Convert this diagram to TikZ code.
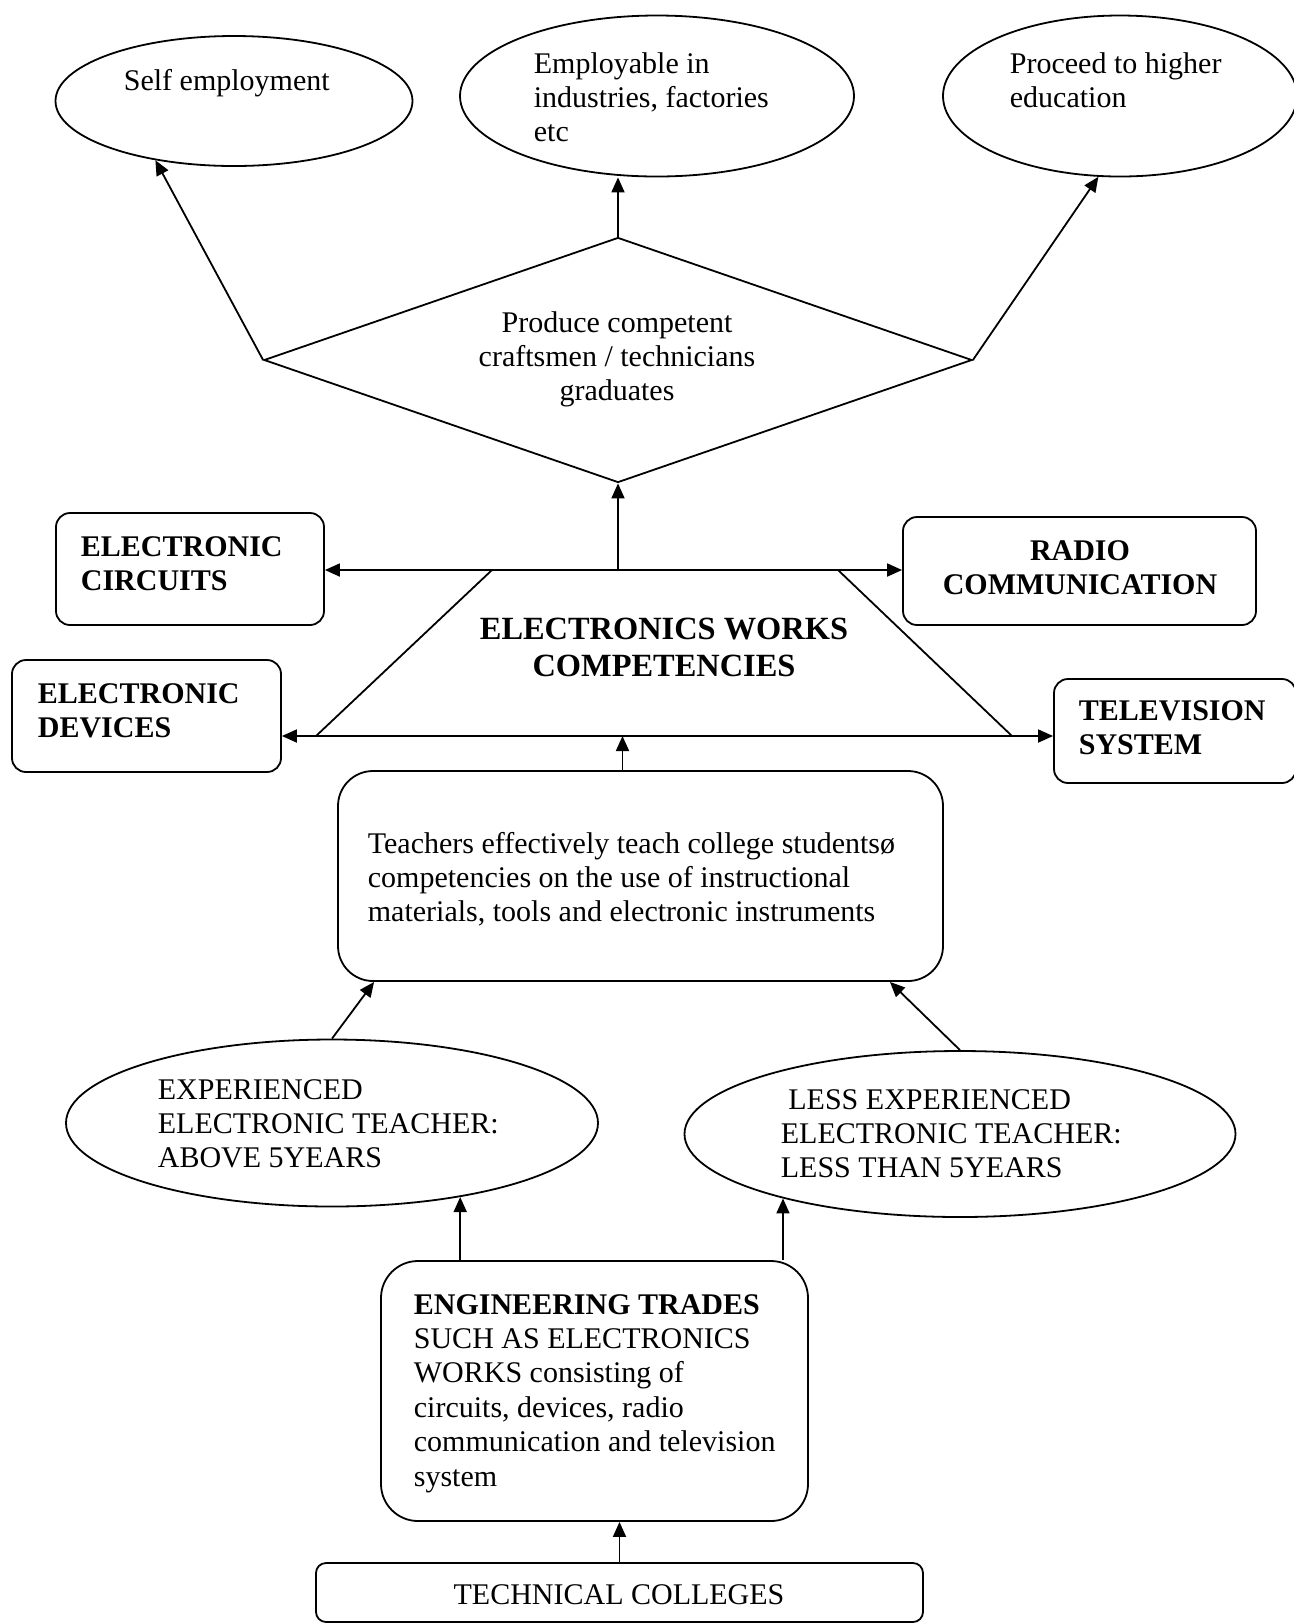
\documentclass[tikz,border=0pt]{standalone}
\usepackage{fontspec}
\setmainfont{Liberation Serif}
\usetikzlibrary{arrows.meta,shapes.geometric}
\newcommand\bodyfont{\fontsize{15}{17.2}\selectfont}
\newcommand\titlefont{\fontsize{16.2}{18.7}\selectfont\bfseries}
\newcommand\txtblock[2]{\begin{tabular}[t]{@{}#1@{}}#2\end{tabular}}
\begin{document}
\begin{tikzpicture}[x=0.5pt,y=-0.5pt,
  every node/.style={inner sep=0pt},
  line width=0.9pt,
  oval/.style={ellipse,draw},
  rbox/.style={rectangle,draw,rounded corners=7pt},
  txt/.style={font=\bodyfont,anchor=base west},
  ctxt/.style={font=\bodyfont,anchor=base},
  arr/.style={-{Triangle[length=7.5pt,width=6.5pt]}}]
\useasboundingbox (0,0) rectangle (1294,1624);

% outcomes
\node[oval,minimum width=178.5pt,minimum height=65pt] (self) at (234,101) {};
\node[oval,minimum width=197pt,minimum height=80.5pt] (employ) at (657,96) {};
\node[oval,minimum width=177pt,minimum height=80.5pt] (higher) at (1120,96) {};
\node[txt] (selft) at (123,90) {Self employment};
\node[txt] (employt) at (533,73) {\txtblock{l}{Employable in\\industries, factories\\etc}};
\node[txt] (highert) at (1009,73) {\txtblock{l}{Proceed to higher\\education}};

% graduates
\node[diamond,draw,minimum width=354pt,minimum height=122.5pt] (produce) at (618,360) {};
\node[ctxt] (producet) at (617,332) {\txtblock{c}{Produce competent\\craftsmen / technicians\\graduates}};

% competencies
\coordinate (tl) at (492,570);
\coordinate (tr) at (838,570);
\coordinate (br) at (1012,736);
\coordinate (bl) at (316,736);
\draw (tl) -- (tr) -- (br) -- (bl) -- cycle;
\node[ctxt,font=\titlefont] (ewc) at (664,639) {\txtblock{c}{ELECTRONICS WORKS\\COMPETENCIES}};

% areas
\node[rbox,minimum width=134pt,minimum height=56pt] (circ) at (190,569) {};
\node[rbox,minimum width=176.5pt,minimum height=54pt] (radio) at (1079.5,571) {};
\node[rbox,minimum width=134.5pt,minimum height=56pt] (dev) at (146.5,716) {};
\node[rbox,minimum width=121pt,minimum height=52pt] (tv) at (1175,731) {};
\node[txt,font=\bodyfont\bfseries] (circt) at (80,556) {\txtblock{l}{ELECTRONIC\\CIRCUITS}};
\node[ctxt,font=\bodyfont\bfseries] (radiot) at (1080,560) {\txtblock{c}{RADIO\\COMMUNICATION}};
\node[txt,font=\bodyfont\bfseries] (devt) at (37,703) {\txtblock{l}{ELECTRONIC\\DEVICES}};
\node[txt,font=\bodyfont\bfseries] (tvt) at (1078,720) {\txtblock{l}{TELEVISION\\SYSTEM}};

% teaching
\node[rbox,rounded corners=17.5pt,minimum width=302.5pt,minimum height=105pt] (teach) at (640.5,876) {};
\node[txt] (teacht) at (367,853) {\txtblock{l}{Teachers effectively teach college studentsø\\competencies on the use of instructional\\materials, tools and electronic instruments}};

% teachers
\node[oval,minimum width=266pt,minimum height=83.5pt] (expe) at (332,1123) {};
\node[oval,minimum width=275.5pt,minimum height=83pt] (lesse) at (960,1134) {};
\node[txt] (expet) at (157,1099) {\txtblock{l}{EXPERIENCED\\ELECTRONIC TEACHER:\\ABOVE 5YEARS}};
\node[txt] (lesset) at (780,1109) {\txtblock{l}{\ LESS EXPERIENCED\\ELECTRONIC TEACHER:\\LESS THAN 5YEARS}};

% trades and colleges
\node[rbox,rounded corners=18.5pt,minimum width=213.5pt,minimum height=130pt] (eng) at (594.5,1391) {};
\node[txt] (engt) at (413,1314) {\txtblock{l}{\textbf{ENGINEERING TRADES}\\SUCH AS ELECTRONICS\\WORKS consisting of\\circuits, devices, radio\\communication and television\\system}};
\node[rbox,rounded corners=5pt,minimum width=303.5pt,minimum height=29.5pt] (tech) at (619.5,1592.5) {};
\node[ctxt] (techt) at (619,1604) {TECHNICAL COLLEGES};

% connectors
\draw[arr] (produce.west) -- (self.217);
\draw[arr] (produce.north) -- (produce.north |- employ.south);
\draw[arr] (produce.east) -- (higher.255);
\draw[arr] (produce.south |- tl) -- (produce.south);
\draw[arr] (tl) -- (tl -| circ.east);
\draw[arr] (tr) -- (tr -| radio.west);
\draw[arr] (bl) -- (bl -| dev.east);
\draw[arr] (br) -- (br -| tv.west);
\draw[arr] ([xshift=-9pt]teach.north) -- ([xshift=-9pt]teach.north |- bl);
\draw[arr] (expe.north) -- ([xshift=18.5pt]teach.south west);
\draw[arr] (lesse.north) -- ([xshift=-27pt]teach.south east);
\draw[arr] (expe.330 |- eng.north) -- (expe.330);
\draw[arr] (lesse.200 |- eng.north) -- (lesse.200);
\draw[arr] (tech.north) -- (tech.north |- eng.south);
\end{tikzpicture}
\end{document}
